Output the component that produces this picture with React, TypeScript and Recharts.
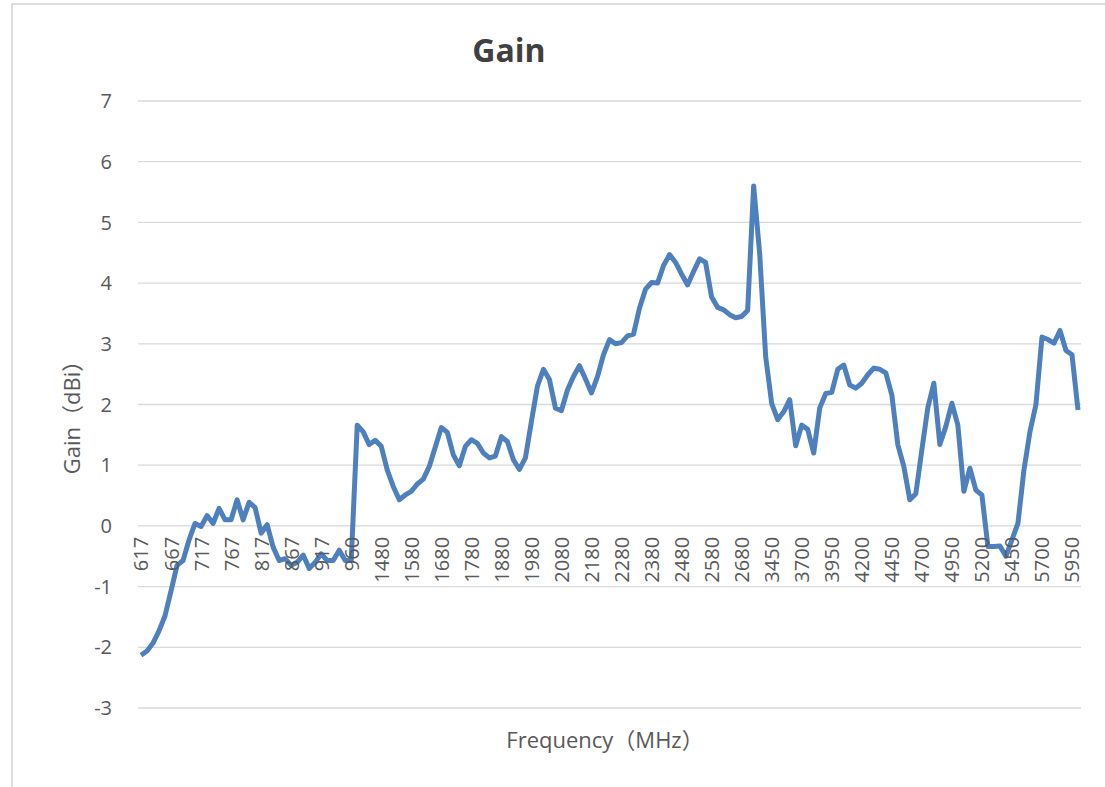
import React from 'react';
import { LineChart, Line, XAxis, YAxis, CartesianGrid } from 'recharts';

// frequency points (MHz), as they appear on the category axis
const lowBand = [
  617, 627, 637, 647, 657, 667, 677, 687, 697, 707, 717, 727, 737, 747, 757, 767, 777, 787,
  797, 807, 817, 827, 837, 847, 857, 867, 877, 887, 897, 907, 917, 927, 937, 947, 957, 960,
];
const midBand = [
  1400, 1420, 1440, 1460, 1480, 1500, 1520, 1540, 1560, 1580, 1600, 1620, 1640, 1660, 1680,
  1700, 1720, 1740, 1760, 1780, 1800, 1820, 1840, 1860, 1880, 1900, 1920, 1940, 1960, 1980,
  2000, 2020, 2040, 2060, 2080, 2100, 2120, 2140, 2160, 2180, 2200, 2220, 2240, 2260, 2280,
  2300, 2320, 2340, 2360, 2380, 2400, 2420, 2440, 2460, 2480, 2500, 2520, 2540, 2560, 2580,
  2600, 2620, 2640, 2660, 2680, 2690, 2700, 3350, 3400,
];
const highBand = [
  3450, 3500, 3550, 3600, 3650, 3700, 3750, 3800, 3850, 3900, 3950, 4000, 4050, 4100, 4150,
  4200, 4250, 4300, 4350, 4400, 4450, 4500, 4550, 4600, 4650, 4700, 4750, 4800, 4850, 4900,
  4950, 5000, 5050, 5100, 5150, 5200, 5250, 5300, 5350, 5400, 5450, 5500, 5550, 5600, 5650,
  5700, 5750, 5800, 5850, 5900, 5950, 6000,
];
const frequencies = [...lowBand, ...midBand, ...highBand];

// gain in dBi, one per frequency
const gainValues = [
  -2.13, -2.06, -1.93, -1.73, -1.48, -1.07, -0.65, -0.57, -0.23, 0.04,
  -0.01, 0.17, 0.04, 0.29, 0.1, 0.1, 0.43, 0.1, 0.39, 0.3,
  -0.12, 0.02, -0.35, -0.57, -0.54, -0.65, -0.6, -0.48, -0.7, -0.6,
  -0.46, -0.57, -0.57, -0.4, -0.57, -0.57, 1.66, 1.55, 1.34, 1.41,
  1.31, 0.92, 0.65, 0.43, 0.51, 0.57, 0.69, 0.77, 0.98, 1.3,
  1.62, 1.54, 1.17, 0.99, 1.31, 1.42, 1.36, 1.2, 1.12, 1.15,
  1.47, 1.39, 1.09, 0.93, 1.12, 1.72, 2.3, 2.58, 2.41, 1.94,
  1.9, 2.24, 2.46, 2.64, 2.42, 2.19, 2.46, 2.82, 3.07, 3.0,
  3.02, 3.13, 3.16, 3.59, 3.9, 4.01, 4.0, 4.29, 4.47, 4.34,
  4.15, 3.97, 4.19, 4.4, 4.34, 3.77, 3.6, 3.56, 3.48, 3.43,
  3.45, 3.55, 5.6, 4.49, 2.79, 2.02, 1.75, 1.88, 2.08, 1.32,
  1.66, 1.59, 1.2, 1.94, 2.18, 2.2, 2.58, 2.65, 2.32, 2.27,
  2.35, 2.49, 2.6, 2.58, 2.52, 2.16, 1.34, 0.98, 0.43, 0.53,
  1.25, 1.95, 2.35, 1.34, 1.64, 2.02, 1.66, 0.57, 0.95, 0.59,
  0.51, -0.34, -0.34, -0.33, -0.5, -0.23, 0.04, 0.92, 1.55, 2.0,
  3.11, 3.07, 3.01, 3.22, 2.89, 2.82, 1.91,
];

const yTicks = [-3, -2, -1, 0, 1, 2, 3, 4, 5, 6, 7];

const data = frequencies.map((f, i) => ({ freq: String(f), gain: gainValues[i] }));

const W = 1105;
const H = 787;
const PLOT_TOP = 101;
const X_AXIS_H = 79;
const PLOT_H = H - PLOT_TOP - X_AXIS_H;
// category axis crosses the value axis at 0, like in Excel
const ZERO_Y = PLOT_TOP + (PLOT_H * 7) / 10;

const FONT = "'Open Sans', 'Noto Sans CJK SC', sans-serif";
const TEXT_GRAY = '#595959';

const FreqTick = (props: any) => {
  const { x, payload } = props;
  const ty = ZERO_Y + 11;
  return (
    <text
      x={x}
      y={ty}
      transform={`rotate(-90, ${x}, ${ty})`}
      textAnchor="end"
      dominantBaseline="central"
      fontSize={20}
      fontFamily={FONT}
      fill={TEXT_GRAY}
    >
      {payload.value}
    </text>
  );
};

export default function App() {
  return (
    <div style={{ position: 'absolute', left: 0, top: 0, width: W, height: H, background: '#fff', overflow: 'hidden' }}>
      <div
        style={{
          position: 'absolute',
          left: 11,
          top: 3,
          width: W,
          height: H,
          borderLeft: '2px solid #dedede',
          borderTop: '2px solid #dedede',
        }}
      />
      <LineChart
        width={W}
        height={H}
        data={data}
        margin={{ top: PLOT_TOP, right: 24, bottom: 0, left: 0 }}
        style={{ position: 'absolute', left: 0, top: 0 }}
      >
        <CartesianGrid vertical={false} stroke="#d9d9d9" strokeWidth={1.3} />
        <XAxis
          dataKey="freq"
          type="category"
          interval={4}
          height={X_AXIS_H}
          padding={{ left: 3, right: 3 }}
          axisLine={false}
          tickLine={false}
          tick={<FreqTick />}
        />
        <YAxis
          width={138}
          domain={[-3, 7]}
          ticks={yTicks}
          allowDataOverflow
          axisLine={false}
          tickLine={false}
          tickSize={0}
          tickMargin={26}
          tick={{ fontSize: 20, fontFamily: FONT, fill: TEXT_GRAY }}
        />
        <Line
          type="linear"
          dataKey="gain"
          stroke="#4e80bd"
          strokeWidth={5}
          strokeLinejoin="round"
          dot={false}
          isAnimationActive={false}
        />
      </LineChart>
      <div
        style={{
          position: 'absolute',
          left: 0,
          width: 1018,
          top: 28,
          textAlign: 'center',
          fontFamily: FONT,
          fontWeight: 700,
          fontSize: 32,
          color: '#404040',
        }}
      >
        Gain
      </div>
      <div
        style={{
          position: 'absolute',
          left: 405,
          width: 400,
          top: 722,
          textAlign: 'center',
          fontFamily: FONT,
          fontSize: 22,
          color: TEXT_GRAY,
        }}
      >
        Frequency（MHz）
      </div>
      <div
        style={{
          position: 'absolute',
          left: 71 - 100,
          top: 412 - 15,
          width: 200,
          height: 30,
          lineHeight: '30px',
          textAlign: 'center',
          transform: 'rotate(-90deg)',
          fontFamily: FONT,
          fontSize: 22,
          color: TEXT_GRAY,
        }}
      >
        Gain（dBi）
      </div>
    </div>
  );
}
